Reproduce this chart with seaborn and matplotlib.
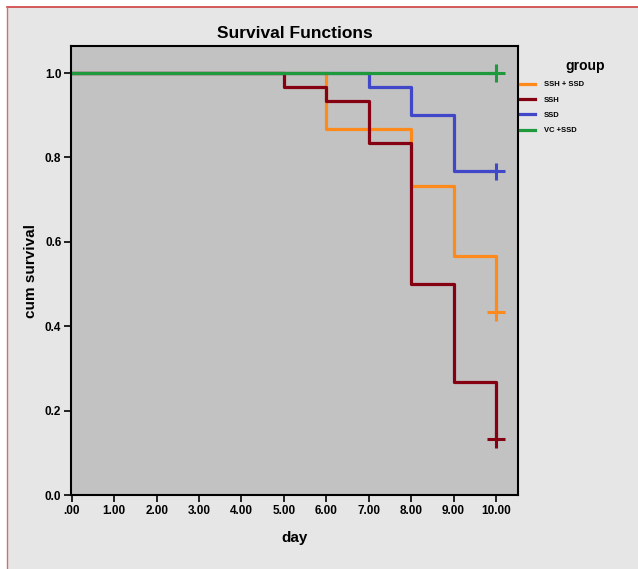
import numpy as np
import pandas as pd
import matplotlib.pyplot as plt
import seaborn as sns
from matplotlib.patches import Rectangle
from matplotlib.lines import Line2D

# survival step data
groups = ['SSH + SSD', 'SSH', 'SSD', 'VC +SSD']
ssh_ssd_day = [0, 6, 8, 9, 10]
ssh_ssd_surv = [1.0, 0.867, 0.733, 0.567, 0.433]
ssh_day = [0, 5, 6, 7, 8, 9, 10]
ssh_surv = [1.0, 0.967, 0.933, 0.833, 0.5, 0.267, 0.133]
ssd_day = [0, 7, 8, 9, 10]
ssd_surv = [1.0, 0.967, 0.9, 0.767, 0.767]
vc_day = [0, 10]
vc_surv = [1.0, 1.0]

# censored points (+ markers)
cens_group = ['SSH + SSD', 'SSH', 'SSD', 'VC +SSD']
cens_day = [10, 10, 10, 10]
cens_surv = [0.433, 0.133, 0.767, 1.0]

xtick_vals = [0, 1, 2, 3, 4, 5, 6, 7, 8, 9, 10]
xtick_labels = ['.00', '1.00', '2.00', '3.00', '4.00', '5.00', '6.00', '7.00', '8.00', '9.00', '10.00']
ytick_vals = [0.0, 0.2, 0.4, 0.6, 0.8, 1.0]
ytick_labels = ['0.0', '0.2', '0.4', '0.6', '0.8', '1.0']

palette = {'SSH + SSD': '#ff8a1c', 'SSH': '#850010', 'SSD': '#4047c8', 'VC +SSD': '#1e9a3c'}

df = pd.concat([
    pd.DataFrame({'day': ssh_ssd_day, 'surv': ssh_ssd_surv, 'group': 'SSH + SSD'}),
    pd.DataFrame({'day': ssh_day, 'surv': ssh_surv, 'group': 'SSH'}),
    pd.DataFrame({'day': ssd_day, 'surv': ssd_surv, 'group': 'SSD'}),
    pd.DataFrame({'day': vc_day, 'surv': vc_surv, 'group': 'VC +SSD'}),
])
cens_df = pd.DataFrame({'day': cens_day, 'surv': cens_surv, 'group': cens_group})

plt.rcParams['font.family'] = ['Liberation Sans', 'DejaVu Sans']
plt.rcParams['font.weight'] = 'bold'

fig = plt.figure(figsize=(6.38, 5.69), dpi=100, facecolor='white')
W, H = 638, 569
# panel background and border
fig.add_artist(Rectangle((7 / W, 0), 1, 1 - 7 / H, transform=fig.transFigure,
                         facecolor='#e6e6e6', edgecolor='none', zorder=-10))
fig.add_artist(Line2D([7 / W, 1], [1 - 7 / H, 1 - 7 / H], transform=fig.transFigure,
                      color='#d04040', linewidth=1.2))
fig.add_artist(Line2D([7 / W, 7 / W], [0, 1 - 7 / H], transform=fig.transFigure,
                      color='#d07070', linewidth=1.0))

ax = fig.add_axes([71 / W, 1 - 495 / H, (518 - 71) / W, (495 - 46) / H])
ax.set_facecolor('#c2c2c2')

sns.lineplot(data=df, x='day', y='surv', hue='group', hue_order=groups, palette=palette,
             drawstyle='steps-post', estimator=None, sort=False, linewidth=2.3, ax=ax,
             legend=False)
sns.scatterplot(data=cens_df, x='day', y='surv', hue='group', hue_order=groups, palette=palette,
                marker='+', s=160, linewidth=2.2, ax=ax, legend=False, zorder=5)

ax.set_xlim(-0.02, 10.52)
ax.set_ylim(0, 1.064)
ax.set_xticks(xtick_vals)
ax.set_xticklabels(xtick_labels, fontsize=8.5, fontweight='bold')
ax.set_yticks(ytick_vals)
ax.set_yticklabels(ytick_labels, fontsize=8.5, fontweight='bold')
ax.tick_params(direction='out', length=5, width=1.2, pad=2)
for s in ax.spines.values():
    s.set_linewidth(1.5)
    s.set_color('black')
ax.set_xlabel('day', fontsize=11, fontweight='bold', labelpad=10)
ax.set_ylabel('cum survival', fontsize=11, fontweight='bold', labelpad=5)
ax.set_title('Survival Functions', fontsize=12.5, fontweight='bold', pad=6)

handles = [Line2D([], [], color=palette[g], linewidth=2.3) for g in groups]
fig.legend(handles, groups, loc='upper left', bbox_to_anchor=(520 / W, 1 - 81 / H),
           frameon=False, fontsize=5.5, handlelength=2.0, borderpad=0, borderaxespad=0,
           labelspacing=1.05, handletextpad=1.1)
fig.text(585 / W, 1 - 66 / H, 'group', ha='center', va='center', fontsize=10,
         fontweight='bold')

fig.savefig('out.png', dpi=100, facecolor=fig.get_facecolor())
